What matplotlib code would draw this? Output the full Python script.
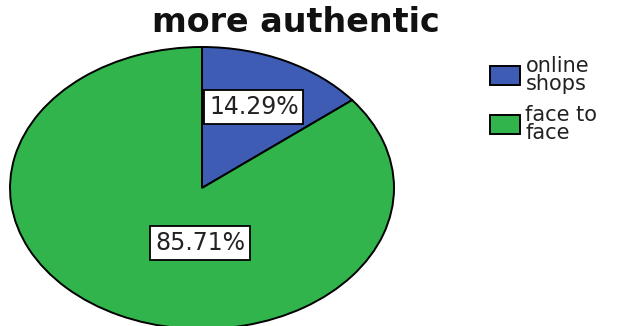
import matplotlib.pyplot as plt

# shares of answers for "more authentic"
labels = ["online\nshops", "face to\nface"]
shares = [14.29, 85.71]
colors = ["#3e5cb4", "#30b44b"]

W, H = 619, 326
fig = plt.figure(figsize=(W / 100, H / 100), dpi=100)

# pie is drawn in a stretched axes, so it comes out as an ellipse
ax = fig.add_axes([10 / W, -3 / H, 384 / W, 282 / H])
wedges, texts, autotexts = ax.pie(
    shares, colors=colors, startangle=90, counterclock=False,
    autopct="%.2f%%", pctdistance=0.63,
    wedgeprops=dict(edgecolor="black", linewidth=1.4),
)
ax.set_aspect("auto")
ax.set_xlim(-1, 1)
ax.set_ylim(-1, 1)

# label spots inside the slices
label_pos = [(0.27, 0.575), (-0.01, -0.39)]
for t, pos in zip(autotexts, label_pos):
    t.set_position(pos)
    t.set_fontsize(17)
    t.set_color("#222222")
    t.set_bbox(dict(facecolor="white", edgecolor="black", linewidth=1.3,
                    boxstyle="square,pad=0.2"))

fig.text(296 / W, 1 - 23 / H, "more authentic", ha="center", va="center",
         fontsize=24, fontweight="bold", color="#111111")

leg = fig.legend(wedges, labels, loc="upper left",
                 bbox_to_anchor=(490 / W, 1 - 56 / H), frameon=False,
                 fontsize=15, handlelength=1.45, handleheight=1.0,
                 handletextpad=0.25, labelspacing=0.55, borderaxespad=0,
                 borderpad=0)
for t in leg.get_texts():
    t.set_linespacing(0.85)
    t.set_color("#222222")
for p in leg.get_patches():
    p.set_linewidth(1.4)

fig.savefig("out.png", dpi=100)
